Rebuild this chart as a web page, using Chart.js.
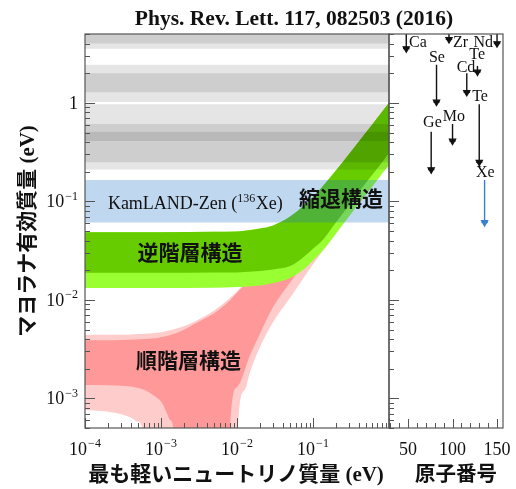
<!DOCTYPE html>
<html><head><meta charset="utf-8">
<script src="https://cdn.jsdelivr.net/npm/chart.js@4"></script>
<style>html,body{margin:0;padding:0;background:#fff;width:516px;height:489px;overflow:hidden}
canvas{position:absolute;left:0;top:0}</style>
</head><body>
<canvas id="main" width="516" height="489"></canvas>
<canvas id="side" width="516" height="489"></canvas>
<script>
// ---------- data ----------
// lightest neutrino mass (eV) sample points and m_bb bounds (eV)
const ihX      = [1e-4, 1e-3, 5e-3, 0.01, 0.02, 0.03, 0.05, 0.07, 0.1, 0.136, 0.2, 0.3, 0.5, 0.7, 1.0];
const ihUpper  = [0.0485, 0.0486, 0.049, 0.0495, 0.053, 0.057, 0.07, 0.086, 0.111, 0.144, 0.206, 0.304, 0.502, 0.70, 1.0];
const ihLower1 = [0.0188, 0.0188, 0.0189, 0.019, 0.0196, 0.0203, 0.022, 0.026, 0.033, 0.041, 0.061, 0.092, 0.155, 0.215, 0.31];
const ihLower3 = [0.0132, 0.0132, 0.0133, 0.0135, 0.014, 0.0148, 0.0167, 0.0195, 0.025, 0.032, 0.047, 0.071, 0.118, 0.165, 0.235];

const nhX3      = [1e-4, 2e-4, 3e-4, 4e-4, 5e-4, 5.6e-4, 6e-4, 1e-3, 2e-3, 3e-3, 5e-3, 7e-3, 9.8e-3, 0.0103, 0.0125, 0.015, 0.02, 0.03, 0.05, 0.1, 0.2, 0.5, 1.0];
const nhUpper3  = [0.0044, 0.00441, 0.00443, 0.00446, 0.0045, 0.0045, 0.00452, 0.0047, 0.0054, 0.0062, 0.0078, 0.0095, 0.012, 0.0125, 0.0145, 0.017, 0.022, 0.032, 0.052, 0.1, 0.2, 0.5, 1.0];
const nhLower3  = [7.6e-4, 7.3e-4, 6.9e-4, 6.4e-4, 5.8e-4, 5.2e-4, 1e-6, 1e-6, 1e-6, 1e-6, 1e-6, 1e-6, 1e-6, 5.2e-4, 0.0012, 0.0019, 0.0033, 0.006, 0.0105, 0.023, 0.047, 0.118, 0.235];

const nhX1      = [1e-4, 2e-4, 3e-4, 4.5e-4, 6e-4, 7.6e-4, 9e-4, 1.03e-3, 1.2e-3, 1.32e-3, 1.44e-3, 1.6e-3, 3e-3, 5e-3, 7.8e-3, 8.1e-3, 0.01, 0.015, 0.02, 0.03, 0.05, 0.1, 0.2, 0.5, 1.0];
const nhUpper1  = [0.0039, 0.0039, 0.00392, 0.00395, 0.004, 0.00405, 0.0041, 0.0042, 0.0043, 0.0044, 0.0045, 0.0046, 0.0059, 0.0073, 0.0096, 0.0099, 0.0118, 0.0165, 0.0215, 0.031, 0.051, 0.099, 0.199, 0.499, 0.995];
const nhLower1  = [1.37e-3, 1.36e-3, 1.34e-3, 1.3e-3, 1.22e-3, 1.1e-3, 1.0e-3, 9e-4, 7e-4, 6e-4, 5.2e-4, 1e-6, 1e-6, 1e-6, 1e-6, 5.2e-4, 1.3e-3, 0.0028, 0.0045, 0.0085, 0.015, 0.031, 0.062, 0.155, 0.31];

// experiments: isotope, mass number, m_bb limit range (eV)
const isotopes    = ['Ca', 'Ge', 'Se', 'Zr', 'Mo', 'Cd', 'Te', 'Te', 'Xe', 'Nd'];
const massNumbers = [48, 76, 82, 96, 100, 116, 128, 130, 136, 150];
const limitUpper  = [21.5, 0.51, 2.43, 19.5, 0.61, 2.0, 2.37, 0.97, 0.165, 6.3];
const limitLower  = [3.55, 0.21, 1.02, 4.4, 0.41, 1.28, 2.06, 0.25, 0.061, 4.0];
const hasBand     = [true, true, true, false, true, true, false, true, true, true];
// label anchors for the right panel (mass number, eV)
const labelA = [51.1, 77.4, 82.5, 100.5, 101.6, 115.1, 127.7, 130.9, 136.8, 145.5];
const labelV = [4.07, 0.627, 2.86, 4.07, 0.72, 2.27, 3.07, 1.15, 0.195, 4.07];
const labelAlign = ['left', 'center', 'center', 'left', 'center', 'center', 'center', 'center', 'center', 'right'];

// axis ticks
const xMajorTicks = [1e-4, 1e-3, 1e-2, 1e-1];
const xTickExp    = ['−4', '−3', '−2', '−1'];
const yMajorTicks = [1, 0.1, 0.01, 0.001];
const yTickExp    = ['', '−1', '−2', '−3'];
const aTicks      = [50, 100, 150];

const regionText = ['逆階層構造', '順階層構造', '縮退構造'];
const regionX    = [0.0024, 0.0023, 0.233];
const regionY    = [0.0286, 0.0023, 0.103];

// ---------- styling ----------
const SERIF = '"Liberation Serif","Times New Roman",serif';
const CJKF = '"Liberation Serif","Noto Sans CJK JP",sans-serif';
const FRAME = '#555';
const C_NH3 = '#ffcccc', C_NH1 = '#ff9999', C_IH3 = '#99ff33', C_IH1 = '#66cc00';
const C_GRAY = 'rgba(0,0,0,0.1)', C_BLUE = 'rgba(30,110,200,0.28)';

// ---------- datasets ----------
const mainSets = [];
function bandPair(xs, up, lo, color, order) {
  const i = mainSets.length;
  mainSets.push({data: xs.map((x, k) => ({x, y: up[k]})), borderWidth: 0, borderColor: 'rgba(0,0,0,0)', pointRadius: 0, fill: false, order, cubicInterpolationMode: 'monotone'});
  mainSets.push({data: xs.map((x, k) => ({x, y: lo[k]})), borderWidth: 0, borderColor: 'rgba(0,0,0,0)', pointRadius: 0, fill: i, backgroundColor: color, order, cubicInterpolationMode: 'monotone'});
}
bandPair(nhX3, nhUpper3, nhLower3, C_NH3, 20);
bandPair(nhX1, nhUpper1, nhLower1, C_NH1, 19);
bandPair(ihX, ihUpper, ihLower3, C_IH3, 18);
bandPair(ihX, ihUpper, ihLower1, C_IH1, 17);
isotopes.forEach((iso, k) => {
  if (!hasBand[k]) return;
  mainSets.push({data: [{x: 1e-4, y: limitUpper[k]}, {x: 1, y: limitUpper[k]}], borderWidth: 0, borderColor: 'rgba(0,0,0,0)', pointRadius: 0,
    fill: {value: limitLower[k]}, backgroundColor: iso === 'Xe' ? C_BLUE : C_GRAY, order: iso === 'Xe' ? 5 : 10});
});

const sideSets = isotopes.map((iso, k) => {
  const col = iso === 'Xe' ? '#3a80d0' : '#111';
  return {data: [{x: massNumbers[k], y: limitUpper[k]}, {x: massNumbers[k], y: limitLower[k]}, {x: massNumbers[k], y: limitLower[k]}],
    borderColor: col, borderWidth: 1.4, fill: false, pointStyle: ['circle', 'triangle', 'line'], pointRadius: [0, 3.6, 3.2],
    pointRotation: [0, 180, 0], pointBackgroundColor: col, pointBorderColor: col, pointBorderWidth: 1.2};
});

// ---------- helpers ----------
function logTicks(min, max) {
  const out = [];
  for (let e = -5; e <= 1; e++) for (let k = 1; k <= 9; k++) {
    const v = k * Math.pow(10, e);
    if (v >= min * 0.9999 && v <= max * 1.0001) out.push({v, major: k === 1});
  }
  return out;
}
function drawPow(ctx, exp, x, y, align, size) {
  ctx.textAlign = 'left'; ctx.textBaseline = 'alphabetic';
  ctx.font = size + 'px ' + SERIF;
  const base = exp === '' ? '1' : '10';
  const wb = ctx.measureText(base).width;
  const ss = Math.round(size * 0.68);
  ctx.font = ss + 'px ' + SERIF;
  const we = exp === '' ? 0 : ctx.measureText(exp).width + 1;
  const tot = wb + we;
  const x0 = align === 'center' ? x - tot / 2 : align === 'right' ? x - tot : x;
  ctx.font = size + 'px ' + SERIF; ctx.fillText(base, x0, y);
  if (exp !== '') { ctx.font = ss + 'px ' + SERIF; ctx.fillText(exp, x0 + wb + 1, y - size * 0.42); }
}
function drawYTicks(ctx, ys, area) {
  ctx.strokeStyle = FRAME; ctx.lineWidth = 1; ctx.beginPath();
  logTicks(ys.min, ys.max).forEach(t => {
    const py = Math.round(ys.getPixelForValue(t.v)) + 0.5;
    ctx.moveTo(area.left, py); ctx.lineTo(area.left + (t.major ? 10 : 5), py);
  });
  ctx.stroke();
}
function frame(ctx, a) {
  ctx.strokeStyle = FRAME; ctx.lineWidth = 1.2;
  ctx.strokeRect(a.left, a.top, a.right - a.left, a.bottom - a.top);
}

const mainDeco = {
  id: 'mainDeco',
  afterDatasetsDraw(chart) {
    const ctx = chart.ctx, xs = chart.scales.x, ys = chart.scales.y;
    ctx.save();
    ctx.fillStyle = '#111';
    ctx.font = 'bold 21px ' + CJKF; ctx.textAlign = 'center'; ctx.textBaseline = 'middle';
    regionText.forEach((t, k) => ctx.fillText(t, xs.getPixelForValue(regionX[k]), ys.getPixelForValue(regionY[k])));
    // KamLAND-Zen label
    const kx = xs.getPixelForValue(2.0e-4), ky = ys.getPixelForValue(0.097) + 6;
    ctx.textAlign = 'left'; ctx.textBaseline = 'alphabetic';
    ctx.font = '18px ' + SERIF; const p1 = 'KamLAND-Zen ('; ctx.fillText(p1, kx, ky);
    let cx = kx + ctx.measureText(p1).width;
    ctx.font = '12px ' + SERIF; ctx.fillText('136', cx, ky - 7); cx += ctx.measureText('136').width + 0.5;
    ctx.font = '18px ' + SERIF; ctx.fillText('Xe)', cx, ky);
    ctx.restore();
  },
  afterDraw(chart) {
    const ctx = chart.ctx, a = chart.chartArea, xs = chart.scales.x, ys = chart.scales.y;
    ctx.save();
    frame(ctx, a);
    drawYTicks(ctx, ys, a);
    ctx.beginPath();
    logTicks(xs.min, xs.max).forEach(t => {
      const px = Math.round(xs.getPixelForValue(t.v)) + 0.5;
      ctx.moveTo(px, a.bottom); ctx.lineTo(px, a.bottom - (t.major ? 10 : 5));
    });
    ctx.stroke();
    ctx.fillStyle = '#111';
    xMajorTicks.forEach((v, k) => drawPow(ctx, xTickExp[k], xs.getPixelForValue(v), a.bottom + 27, 'center', 18));
    yMajorTicks.forEach((v, k) => drawPow(ctx, yTickExp[k], a.left - 7, ys.getPixelForValue(v) + 6, 'right', 18));
    // titles
    ctx.font = 'bold 21.5px ' + SERIF; ctx.textAlign = 'center'; ctx.textBaseline = 'alphabetic';
    ctx.fillText('Phys. Rev. Lett. 117, 082503 (2016)', 294, 25);
    ctx.font = 'bold 21px ' + CJKF; ctx.textBaseline = 'middle';
    ctx.fillText('最も軽いニュートリノ質量 (eV)', 236, 476);
    ctx.save(); ctx.translate(29, (a.top + a.bottom) / 2); ctx.rotate(-Math.PI / 2);
    ctx.fillText('マヨラナ有効質量 (eV)', 0, 0); ctx.restore();
    ctx.restore();
  }
};
const sideDeco = {
  id: 'sideDeco',
  afterDraw(chart) {
    const ctx = chart.ctx, a = chart.chartArea, xs = chart.scales.x, ys = chart.scales.y;
    ctx.save();
    frame(ctx, a);
    drawYTicks(ctx, ys, a);
    ctx.beginPath();
    for (let v = 30; v <= 150; v += 10) {
      const px = Math.round(xs.getPixelForValue(v)) + 0.5;
      ctx.moveTo(px, a.bottom); ctx.lineTo(px, a.bottom - (v % 50 === 0 ? 9 : 5));
    }
    ctx.stroke();
    ctx.fillStyle = '#111';
    ctx.font = '18px ' + SERIF; ctx.textAlign = 'center'; ctx.textBaseline = 'alphabetic';
    aTicks.forEach(v => ctx.fillText(String(v), xs.getPixelForValue(v), a.bottom + 27));
    ctx.font = 'bold 20.5px ' + CJKF; ctx.textBaseline = 'middle';
    ctx.fillText('原子番号', 456, 476);
    ctx.font = '16px ' + SERIF; ctx.textBaseline = 'middle';
    isotopes.forEach((iso, k) => {
      ctx.textAlign = labelAlign[k];
      ctx.fillText(iso, xs.getPixelForValue(labelA[k]), ys.getPixelForValue(labelV[k]));
    });
    ctx.restore();
  }
};

const common = {responsive: false, animation: false, events: [],
  plugins: {legend: {display: false}, tooltip: {enabled: false}, title: {display: false}}};

new Chart(document.getElementById('main'), {
  type: 'line',
  data: {datasets: mainSets},
  options: Object.assign({}, common, {
    layout: {padding: {left: 85, right: 127, top: 34, bottom: 61}},
    scales: {
      x: {type: 'logarithmic', min: 1e-4, max: 1, display: false},
      y: {type: 'logarithmic', min: 5e-4, max: 5, display: false}
    }
  }),
  plugins: [mainDeco]
});
new Chart(document.getElementById('side'), {
  type: 'line',
  data: {datasets: sideSets},
  options: Object.assign({}, common, {
    layout: {padding: {left: 389, right: 13, top: 34, bottom: 61}},
    scales: {
      x: {type: 'linear', min: 28.6, max: 156.7, display: false},
      y: {type: 'logarithmic', min: 5e-4, max: 5, display: false}
    }
  }),
  plugins: [sideDeco]
});
</script></body></html>
